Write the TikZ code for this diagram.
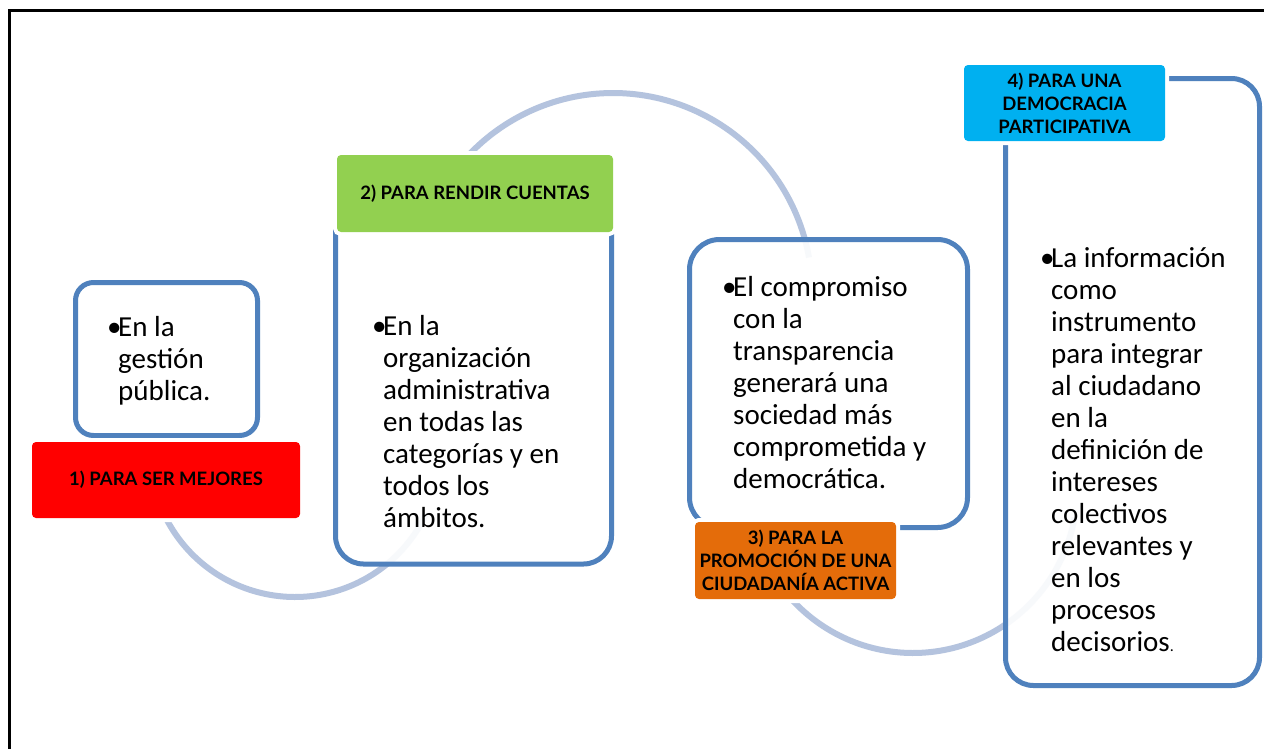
\documentclass[tikz,border=0pt]{standalone}
\usepackage{fontspec}
\setmainfont{Carlito}
\newfontfamily\labelfont{Lato}
\definecolor{boxblue}{HTML}{4F81BD}
\definecolor{arcblue}{HTML}{B4C3DE}
\definecolor{lred}{HTML}{FF0000}
\definecolor{lgreen}{HTML}{92D050}
\definecolor{lorange}{HTML}{E46C0A}
\definecolor{lcyan}{HTML}{00B0F0}
\newcommand\firstln[1]{\hbox{\makebox[11pt][l]{\textbullet}#1}}
\newcommand\nextln[1]{\hbox{\kern11pt #1}}
\newcommand\bodylines[1]{\vtop{\baselineskip=32pt\lineskiplimit=-100pt\lineskip=0pt\relax #1}}
\begin{document}
\begin{tikzpicture}[x=1pt,y=-1pt,
  contentbox/.style={draw=boxblue, line width=5pt, fill=white, fill opacity=0.9, draw opacity=1, inner sep=0, outer sep=0, anchor=north west},
  labelbox/.style={inner sep=0, outer sep=0, anchor=north west, rounded corners=4pt, preaction={draw=white, line width=8pt}, font=\labelfont\bfseries\fontsize{18.5}{23}\selectfont, align=center, text=black},
  arcline/.style={draw=arcblue, line width=6pt},
  bodytext/.style={inner sep=0, anchor=base west, font=\fontsize{29}{32}\selectfont}
]
\useasboundingbox (0,0) rectangle (1264,748);
\clip (0,0) rectangle (1264,748);
\fill[white] (0,0) rectangle (1264,748);
% outer frame
\draw[black, line width=3.5pt] (9.5,10.5) rectangle (1300,800);
% background arcs
\draw[arcline] plot[domain=25:170, samples=90] ({295+145*cos(\x)},{452+145*sin(\x)});
\draw[arcline] plot[domain=210:350, samples=90] ({613+199*cos(\x)},{292+199*sin(\x)});
\draw[arcline] plot[domain=10:150, samples=90] ({913+164*cos(\x)},{489+164*sin(\x)});
% content boxes
\node[contentbox, rounded corners=18pt, minimum width=182pt, minimum height=153pt] (b1) at (75.5,282.5) {};
\node[contentbox, rounded corners=28pt, minimum width=276pt, minimum height=389pt] (b2) at (335.5,175) {};
\node[contentbox, rounded corners=30pt, minimum width=278pt, minimum height=288pt] (b3) at (689.5,239.5) {};
\node[contentbox, rounded corners=28pt, minimum width=254pt, minimum height=607pt] (b4) at (1005.5,78.5) {};
% labels
\node[labelbox, fill=lred, minimum width=268pt, minimum height=76pt] (l1) at (32,442) {1) PARA SER MEJORES};
\node[labelbox, fill=lgreen, minimum width=276pt, minimum height=77pt] (l2) at (337,155) {2) PARA RENDIR CUENTAS};
\node[labelbox, fill=lorange, minimum width=201pt, minimum height=77pt] (l3) at (695,522) {3) PARA LA\\PROMOCIÓN DE UNA\\CIUDADANÍA ACTIVA};
\node[labelbox, fill=lcyan, minimum width=201pt, minimum height=76pt] (l4) at (964,65) {4) PARA UNA\\DEMOCRACIA\\PARTICIPATIVA};
% texts
\node[bodytext] (t1) at (107,336) {\bodylines{\firstln{En la}\nextln{gestión}\nextln{pública.}}};
\node[bodytext] (t2) at (372,335) {\bodylines{\firstln{En la}\nextln{organización}\nextln{administrativa}\nextln{en todas las}\nextln{categorías y en}\nextln{todos los}\nextln{ámbitos.}}};
\node[bodytext] (t3) at (722,296) {\bodylines{\firstln{El compromiso}\nextln{con la}\nextln{transparencia}\nextln{generará una}\nextln{sociedad más}\nextln{comprometida y}\nextln{democrática.}}};
\node[bodytext] (t4) at (1040,267) {\bodylines{\firstln{La información}\nextln{como}\nextln{instrumento}\nextln{para integrar}\nextln{al ciudadano}\nextln{en la}\nextln{definición de}\nextln{intereses}\nextln{colectivos}\nextln{relevantes y}\nextln{en los}\nextln{procesos}\nextln{decisorios{\fontsize{16}{16}\selectfont .}}}};
\end{tikzpicture}
\end{document}
